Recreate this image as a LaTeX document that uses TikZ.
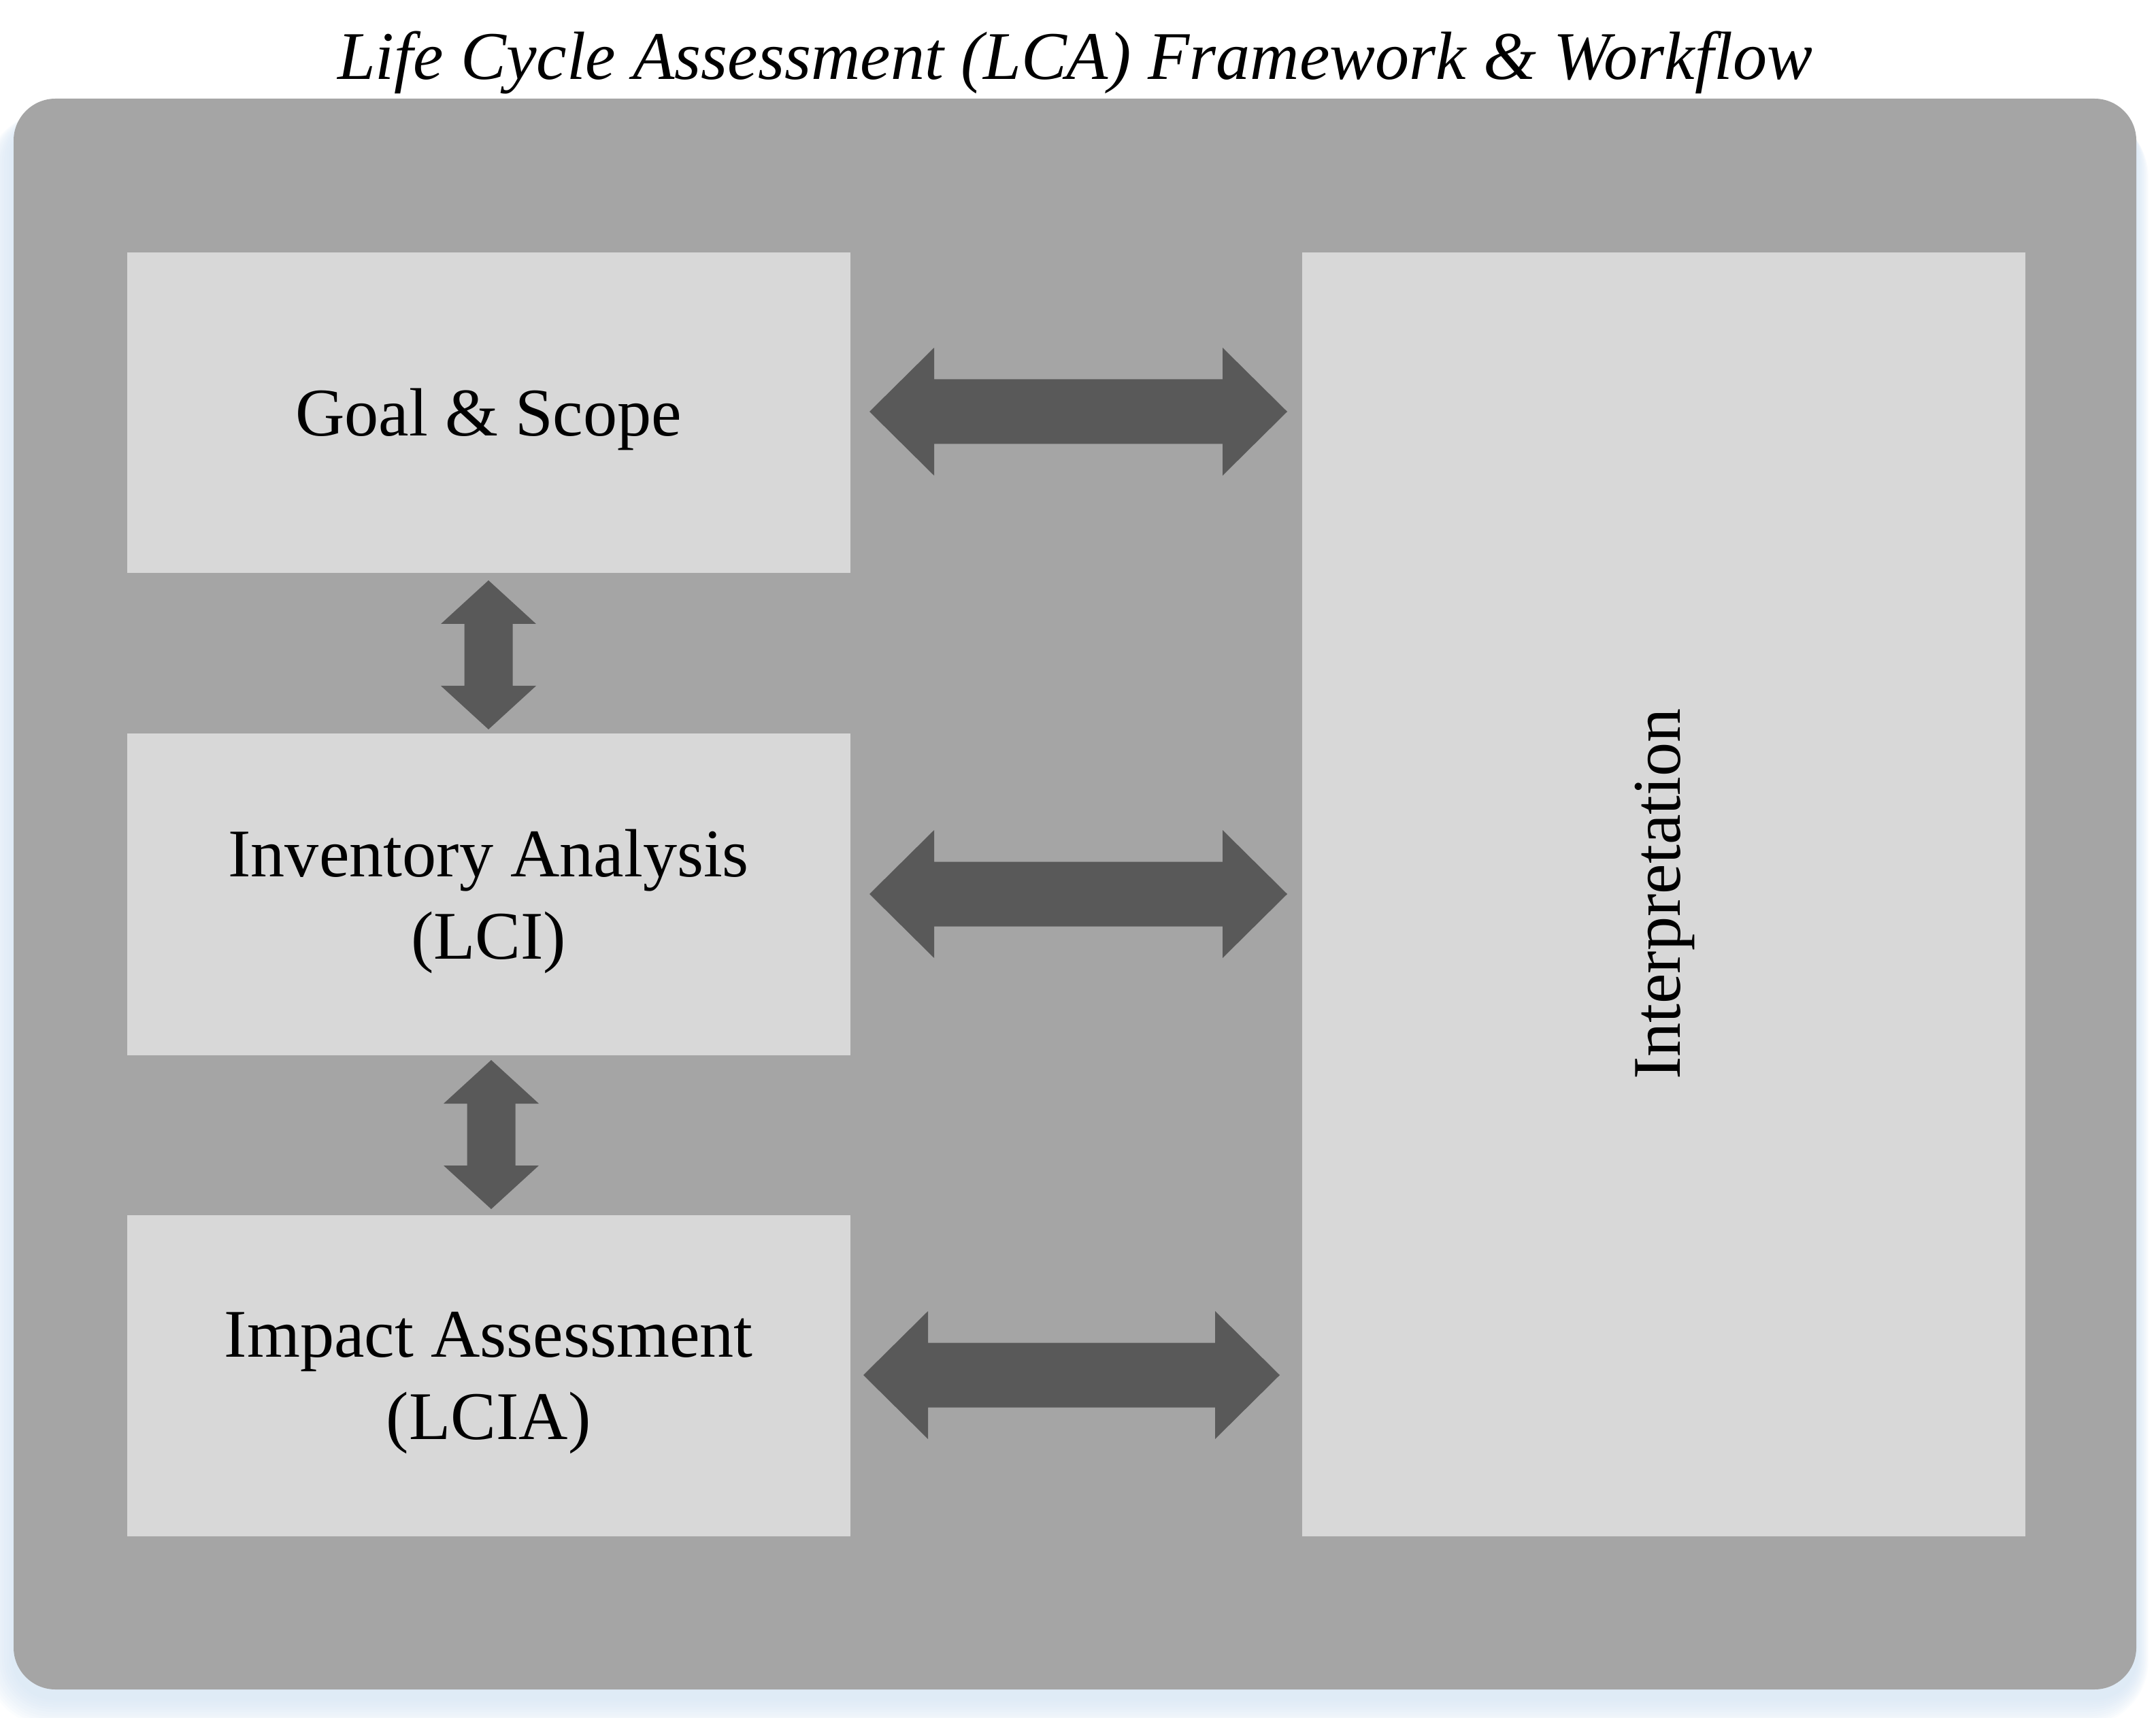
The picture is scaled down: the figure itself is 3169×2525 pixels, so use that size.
\documentclass[tikz,border=0pt]{standalone}
\usepackage{fontspec}
\setmainfont{Liberation Serif}
\definecolor{outerg}{RGB}{165,165,165}
\definecolor{boxg}{RGB}{216,216,216}
\definecolor{arrg}{RGB}{89,89,89}
\definecolor{glow}{RGB}{200,220,240}
\newcommand\myharrow[6]{% x1 x2 yc shafthalf headhalf headlen
  \fill[arrg] (#1,#3) -- (#1+#6,#3-#5) -- (#1+#6,#3-#4) -- (#2-#6,#3-#4) -- (#2-#6,#3-#5)
    -- (#2,#3) -- (#2-#6,#3+#5) -- (#2-#6,#3+#4) -- (#1+#6,#3+#4) -- (#1+#6,#3+#5) -- cycle;}
\newcommand\myvarrow[6]{% y1 y2 xc shafthalf headhalf headlen
  \fill[arrg] (#3,#1) -- (#3+#5,#1+#6) -- (#3+#4,#1+#6) -- (#3+#4,#2-#6) -- (#3+#5,#2-#6)
    -- (#3,#2) -- (#3-#5,#2-#6) -- (#3-#4,#2-#6) -- (#3-#4,#1+#6) -- (#3-#5,#1+#6) -- cycle;}
\tikzset{
  stagebox/.style={fill=boxg, draw=none, inner sep=0pt, align=center,
    font=\fontsize{28.5}{34.5}\selectfont, text depth=0pt},
}
\begin{document}
\begin{tikzpicture}[x=0.01cm, y=-0.01cm]
\useasboundingbox (0,0) rectangle (3169,2525);
% shadow glow
\foreach \i in {1,...,12} {
  \fill[glow, opacity=0.07, rounded corners=(60+\i*3)*0.2845pt]
    (20-\i*3.5,165) rectangle (3140+\i*1.5,2483+12+\i*3.5);
}
% outer panel
\fill[outerg, rounded corners=17.5pt] (20,145) rectangle (3140,2483);
\node[font=\fontsize{28.5}{34}\selectfont\itshape] (title) at (1580,92) {Life Cycle Assessment (LCA) Framework \& Workflow};
% boxes
\node[stagebox, minimum width=1063*0.01cm, minimum height=471*0.01cm, anchor=north west] (goal) at (186,370) {Goal \& Scope};
\node[stagebox, minimum width=1063*0.01cm, minimum height=473*0.01cm, anchor=north west] (lci) at (186,1077) {Inventory Analysis\\(LCI)};
\node[stagebox, minimum width=1063*0.01cm, minimum height=472*0.01cm, anchor=north west] (lcia) at (186,1785) {Impact Assessment\\(LCIA)};
\node[stagebox, minimum width=1063*0.01cm, minimum height=1887*0.01cm, anchor=north west] (interp) at (1913,370) {};
\node[font=\fontsize{28.5}{34}\selectfont, rotate=90] (interptext) at ([xshift=0.02cm]interp.center) {Interpretation};
% arrows
\myharrow{1278}{1892}{605}{47.5}{94}{95}
\myharrow{1278}{1892}{1314}{47.5}{94}{95}
\myharrow{1269}{1881}{2021}{47.5}{94}{95}
\myvarrow{853}{1072}{718}{35.5}{70}{64}
\myvarrow{1558}{1777}{722}{35.5}{70}{64}
\end{tikzpicture}
\end{document}
